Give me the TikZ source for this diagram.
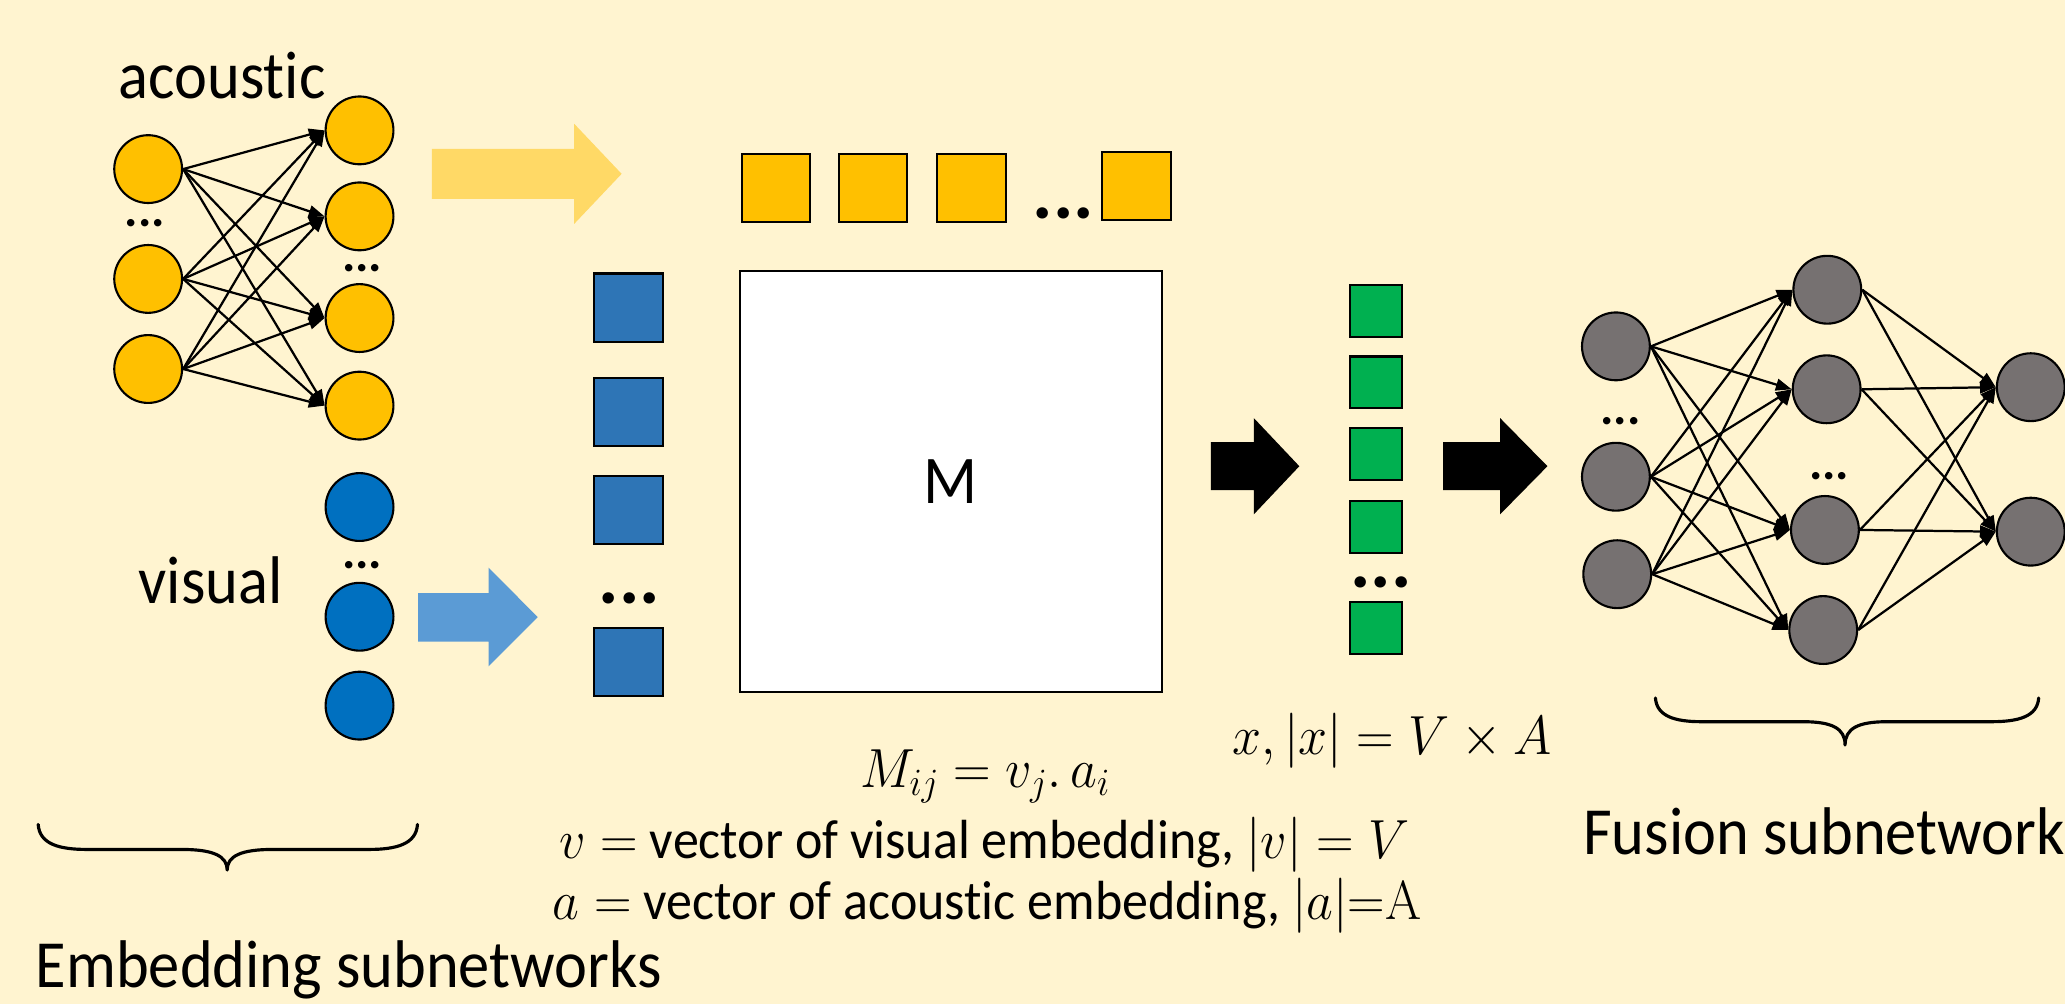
\RequirePackage{fix-cm}
\documentclass[tikz,border=0pt]{standalone}
\usepackage{fontspec}
\setmainfont{Carlito}[Ligatures=NoCommon]
\usetikzlibrary{arrows.meta}

\definecolor{bgcream}{HTML}{FFF4D0}
\definecolor{acgold}{HTML}{FFC000}
\definecolor{acarrow}{HTML}{FFD966}
\definecolor{visblue}{HTML}{0070C0}
\definecolor{visarrow}{HTML}{5B9BD5}
\definecolor{vecblue}{HTML}{2E75B6}
\definecolor{vecgreen}{HTML}{00B050}
\definecolor{fusgrey}{HTML}{767171}

% upright serif capital used inside formulas
\newcommand{\romanA}{\usefont{OT1}{cmr}{m}{n}A}

\begin{document}
\begin{tikzpicture}[x=1pt,y=-1pt,
  neuron/.style={circle, draw=black, line width=1.6pt, minimum size=51.5pt, inner sep=0pt},
  acn/.style={neuron, fill=acgold},
  visn/.style={neuron, fill=visblue},
  fusn/.style={neuron, fill=fusgrey},
  cell/.style={rectangle, draw=black, line width=1.6pt, minimum width=51.9pt, minimum height=51.7pt, inner sep=0pt},
  smallcell/.style={cell, minimum width=39.4pt, minimum height=39.4pt},
  link/.style={line width=1.7pt, -{Triangle[length=12pt,width=9pt]}},
  lbl/.style={font=\fontsize{47.4}{50}\selectfont, inner sep=0pt, anchor=base west, yscale=1.08, transform shape},
  eqn/.style={font=\fontsize{39.5}{44}\selectfont, inner sep=0pt, anchor=base, yscale=1.06, transform shape},
  bigdots/.style={font=\fontsize{58}{60}\selectfont\bfseries, inner sep=0pt, anchor=base},
  smalldots/.style={font=\fontsize{38}{40}\selectfont\bfseries, inner sep=0pt, anchor=base},
  brace/.style={line width=2.4pt, line cap=round, line join=round}
]
% canvas
\useasboundingbox (0,0) rectangle (1568,762);
\clip (0,0) rectangle (1568,762);
\fill[bgcream] (0,0) rectangle (1568,762);

% ---------- acoustic embedding network ----------
\node[lbl] (aclabel) at (90,75) {acoustic};
\node[acn] (a1) at (112.5,128.4) {};
\node[acn] (a2) at (112.5,211.8) {};
\node[acn] (a3) at (112.5,280.2) {};
\node[smalldots] (adots) at (110,172) {...};
\node[acn] (b1) at (273,99) {};
\node[acn] (b2) at (273,164.3) {};
\node[acn] (b3) at (273,241.5) {};
\node[acn] (b4) at (273,308) {};
\node[smalldots] (bdots) at (275,206) {...};
\foreach \i in {1,2,3}
  \foreach \j in {1,2,3,4}
    \draw[link] (a\i.east) -- (b\j.west);

% ---------- visual embedding ----------
\node[lbl] (vislabel) at (105,458) {visual};
\node[visn] (v1) at (273,385) {};
\node[smalldots] (vdots) at (275,431.5) {...};
\node[visn] (v2) at (273,468.3) {};
\node[visn] (v3) at (273,535.8) {};

% ---------- block arrows ----------
\fill[acarrow] (328,113) -- (436,113) -- (436,94) -- (472,132) -- (436,170) -- (436,151) -- (328,151) -- cycle;
\fill[visarrow] (317.5,450.4) -- (371,450.4) -- (371,431) -- (408.3,468.6) -- (371,506) -- (371,487.2) -- (317.5,487.2) -- cycle;
\fill[black] (919.5,335.8) -- (952,335.8) -- (952,317.4) -- (986.6,354) -- (952,390.6) -- (952,372.2) -- (919.5,372.2) -- cycle;
\fill[black] (1095.7,335.8) -- (1139,335.8) -- (1139,317.4) -- (1175,354) -- (1139,390.6) -- (1139,372.2) -- (1095.7,372.2) -- cycle;

% ---------- acoustic vector (top row) ----------
\node[cell, fill=acgold] (t1) at (589.2,143) {};
\node[cell, fill=acgold] (t2) at (662.7,143) {};
\node[cell, fill=acgold] (t3) at (737.7,143) {};
\node[bigdots] (tdots) at (807.5,166) {...};
\node[cell, fill=acgold] (t4) at (863,141.5) {};

% ---------- visual vector (left column) ----------
\node[cell, fill=vecblue] (s1) at (477.2,233.5) {};
\node[cell, fill=vecblue] (s2) at (477.2,313) {};
\node[cell, fill=vecblue] (s3) at (477.2,387) {};
\node[bigdots] (sdots) at (478,458) {...};
\node[cell, fill=vecblue] (s4) at (477.2,502.4) {};

% ---------- outer product matrix ----------
\node[rectangle, draw=black, line width=1.6pt, fill=white, minimum width=320.4pt, minimum height=319.4pt, inner sep=0pt] (M) at (722,365.5) {};
\node[font=\fontsize{48}{50}\selectfont, inner sep=0pt, yscale=1.08, transform shape] (Mlabel) at (M.center) {M};

% ---------- flattened vector ----------
\node[smallcell, fill=vecgreen] (g1) at (1044.8,236.2) {};
\node[smallcell, fill=vecgreen] (g2) at (1044.8,290.4) {};
\node[smallcell, fill=vecgreen] (g3) at (1044.8,344.5) {};
\node[smallcell, fill=vecgreen] (g4) at (1044.8,400.1) {};
\node[bigdots] (gdots) at (1048.6,446) {...};
\node[smallcell, fill=vecgreen] (g5) at (1044.8,476.7) {};

% ---------- fusion network ----------
\node[fusn] (f1) at (1227,263) {};
\node[smalldots] (fdots) at (1230.5,322) {...};
\node[fusn] (f2) at (1227,362) {};
\node[fusn] (f3) at (1228,436) {};
\node[fusn] (h1) at (1387.5,220) {};
\node[fusn] (h2) at (1387,295.6) {};
\node[smalldots] (hdots) at (1389,364) {...};
\node[fusn] (h3) at (1385.7,402.4) {};
\node[fusn] (h4) at (1384.4,478.4) {};
\node[fusn] (o1) at (1542,294) {};
\node[fusn] (o2) at (1542,403.7) {};
\foreach \i in {1,2,3}
  \foreach \j in {1,2,3,4}
    \draw[link] (f\i.east) -- (h\j.west);
\foreach \j in {1,2,3,4}
  \foreach \k in {1,2}
    \draw[link] (h\j.east) -- (o\k.west);

% ---------- formulas ----------
\node[eqn] (eqM) at (748,598) {$M_{ij} = v_j.\,a_i$};
\node[eqn] (eqv) at (747.5,651.5) {$v =$ vector of visual embedding, $|v| = V$};
\node[eqn] (eqa) at (749.5,698) {$a =$ vector of acoustic embedding, $|a|{=}$\romanA};
\node[eqn] (eqx) at (1057,573) {$x, |x| = V \times A$};

% ---------- braces and captions ----------
\draw[brace] (29,626) .. controls (30,641) and (45,645) .. (66,645)
  -- (138,645) .. controls (162,645) and (172.5,650) .. (172.5,660.6)
  .. controls (172.5,650) and (183,645) .. (207,645)
  -- (280,645) .. controls (301,645) and (316,641) .. (317,626);
\node[lbl] (embcap) at (27,750) {Embedding subnetworks};

\draw[brace] (1257,530) .. controls (1258,544) and (1272,548) .. (1292,548)
  -- (1369,548) .. controls (1391,548) and (1401,553) .. (1401,565.7)
  .. controls (1401,553) and (1411,548) .. (1433,548)
  -- (1512,548) .. controls (1533,548) and (1547,544) .. (1548,530);
\node[lbl] (fuscap) at (1202,649) {Fusion subnetwork};
\end{tikzpicture}
\end{document}
